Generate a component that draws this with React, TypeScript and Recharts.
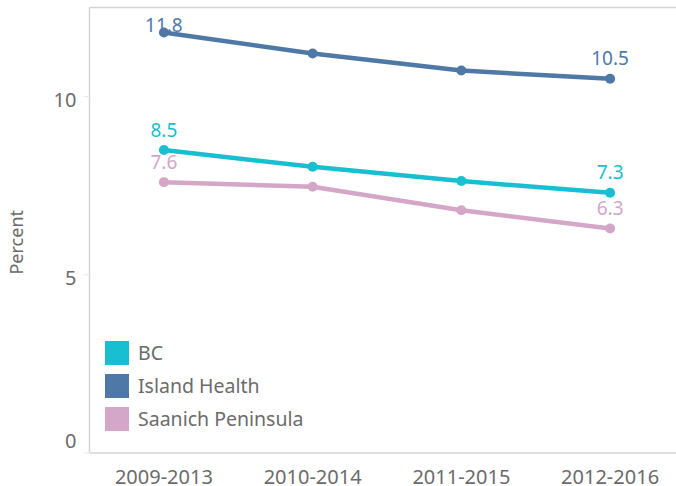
import { LineChart, Line, XAxis, YAxis, ReferenceLine, LabelList, Label } from "recharts";

const PERIODS = ["2009-2013", "2010-2014", "2011-2015", "2012-2016"];
const BC = [8.5, 8.03, 7.63, 7.3];
const ISLAND_HEALTH = [11.8, 11.21, 10.73, 10.5];
const SAANICH = [7.6, 7.47, 6.81, 6.3];
const Y_TICKS = [0, 5, 10];

const FONT = '"Noto Sans", sans-serif';
const TEXT = "#6b6b6b";
const BORDER = "#d4d4d4";

const SERIES = [
  { key: "bc", name: "BC", color: "#17bfd0", values: BC },
  { key: "island", name: "Island Health", color: "#4e79a7", values: ISLAND_HEALTH },
  { key: "saanich", name: "Saanich Peninsula", color: "#d4a6c8", values: SAANICH },
];

const data = PERIODS.map((period, i) => {
  const row: Record<string, string | number> = { period };
  SERIES.forEach((s) => (row[s.key] = s.values[i]));
  return row;
});

const PLOT_TOP = 7.5;

function YTick({ x, y, payload }: any) {
  // Tableau nudges the 0 label up so it stays inside the pane
  const shift = payload.value === 0 ? -12 : 3;
  return (
    <text x={x} y={y + shift} dy="0.35em" textAnchor="end" fill={TEXT} fontSize={20} fontFamily={FONT}>
      {payload.value}
    </text>
  );
}

function XTick({ x, y, payload }: any) {
  return (
    <text x={x} y={y + 21.5} dy="0.35em" textAnchor="middle" fill={TEXT} fontSize={20} fontFamily={FONT}>
      {payload.value}
    </text>
  );
}

function endLabel(color: string, count: number) {
  return (props: any) => {
    const { x, y, value, index } = props;
    if (index !== 0 && index !== count - 1) return null;
    const baseline = Math.max(y - 13.5, PLOT_TOP + 24.5);
    return (
      <text x={x} y={baseline} textAnchor="middle" fill={color} fontSize={19} fontFamily={FONT}>
        {Number(value).toFixed(1)}
      </text>
    );
  };
}

function AxisTitle({ viewBox }: any) {
  const cx = viewBox.x + 17;
  const cy = viewBox.y + viewBox.height / 2 + 12;
  return (
    <text
      x={cx}
      y={cy}
      transform={`rotate(-90 ${cx} ${cy})`}
      textAnchor="middle"
      dy="0.35em"
      fill={TEXT}
      fontSize={18}
      fontFamily={FONT}
    >
      Percent
    </text>
  );
}

function LegendBox() {
  return (
    <div style={{ position: "absolute", left: 105, top: 336, fontFamily: FONT, fontSize: 19.5, color: TEXT }}>
      {SERIES.map((s) => (
        <div key={s.key} style={{ display: "flex", alignItems: "center", height: 33 }}>
          <div style={{ width: 24, height: 24, background: s.color, marginRight: 9 }} />
          <span>{s.name}</span>
        </div>
      ))}
    </div>
  );
}

export default function App() {
  return (
    <div style={{ position: "fixed", left: 0, top: 0, width: 676, height: 486, overflow: "hidden", background: "#fff" }}>
      <LineChart
        width={700}
        height={486}
        data={data}
        margin={{ top: PLOT_TOP, right: 15.5, bottom: 0, left: 0 }}
      >
        <ReferenceLine y={12.5} stroke={BORDER} strokeWidth={1.5} />
        <XAxis
          dataKey="period"
          height={33}
          axisLine={{ stroke: BORDER, strokeWidth: 1.5 }}
          tickLine={false}
          tickSize={0}
          tick={<XTick />}
          interval={0}
          padding={{ left: 74.4, right: 74.4 }}
        />
        <YAxis
          domain={[0, 12.5]}
          ticks={Y_TICKS}
          width={89.5}
          axisLine={{ stroke: BORDER, strokeWidth: 1.5 }}
          tickLine={{ stroke: "#e6e6e6" }}
          tickSize={6}
          tickMargin={7}
          tick={<YTick />}
          allowDataOverflow
        >
          <Label content={<AxisTitle />} />
        </YAxis>
        {SERIES.map((s) => (
          <Line
            key={s.key}
            dataKey={s.key}
            name={s.name}
            stroke={s.color}
            strokeWidth={4.5}
            dot={{ r: 5, fill: s.color, stroke: s.color, strokeWidth: 0 }}
            activeDot={false}
            isAnimationActive={false}
          >
            <LabelList dataKey={s.key} content={endLabel(s.color, s.values.length)} />
          </Line>
        ))}
      </LineChart>
      <LegendBox />
    </div>
  );
}
